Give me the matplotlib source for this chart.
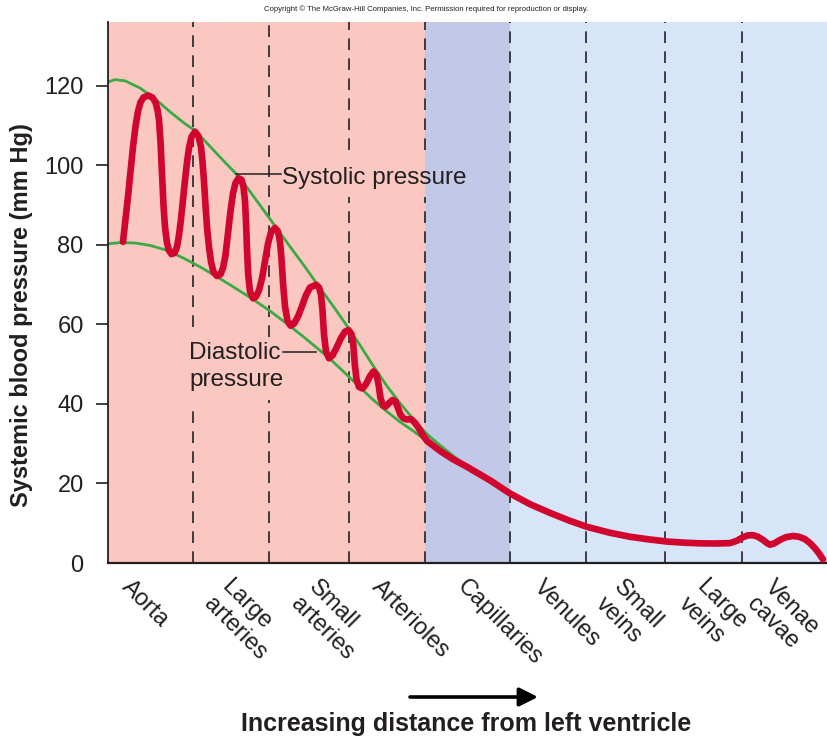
import matplotlib
matplotlib.use('Agg')
import matplotlib.pyplot as plt

plt.rcParams['font.family'] = ['Liberation Sans', 'DejaVu Sans']

# =========================
# DATA  (x = distance along the circulation, arbitrary units)
# =========================
boundaries = [108, 193, 269, 349, 425, 510, 586, 665, 742, 828]
vessels = ['Aorta', 'Large\narteries', 'Small\narteries', 'Arterioles',
           'Capillaries', 'Venules', 'Small\nveins', 'Large\nveins',
           'Venae\ncavae']

# pulsing pressure trace (mm Hg)
press_x = [123, 125.5, 128, 130.5, 133, 135.5, 138, 140.5, 143.5, 148, 152.5, 155.5,
           157.5, 159, 160.5, 162, 163.5, 165, 167, 169, 171.5, 174.5, 177, 179,
           181, 183, 185, 187, 189, 191.5, 195, 198.5, 201, 202.5, 204, 205.5,
           207, 209, 211, 213.5, 217, 220.5, 223, 225.5, 228, 230.5, 233, 235.5,
           238.5, 241.5, 243.5, 245, 246, 247, 248.2, 250, 253, 256, 259, 262,
           265, 268, 271, 275, 278, 280, 281.5, 283, 285, 287.5, 290.5, 294,
           298, 302, 306, 310, 316, 319, 321, 322.5, 324, 326, 329, 332.5,
           337, 341, 345, 348.5, 351.5, 353.3, 354.6, 356.5, 359, 362.5, 366, 370,
           373.5, 376.5, 378.5, 380.5, 383, 385.5, 389, 392.5, 395.5, 398, 400.5, 403.5,
           407, 411, 414.5, 418, 422, 427, 440, 453, 467, 490, 510, 530,
           550, 570, 587, 610, 630, 650, 667, 685, 700, 715, 730, 737,
           743, 748, 753, 758, 763, 767, 770, 774, 780, 786, 793, 799,
           805, 810, 815, 819, 823]
press_y = [80.8, 86.5, 92.2, 98.5, 104.7, 109.8, 113.6, 115.9, 117.1, 117.6, 117.1, 115.9,
           114.0, 111.5, 106.0, 98.0, 90.0, 84.5, 80.5, 78.6, 77.7, 78.0, 79.5, 82.5,
           86.5, 91.5, 96.3, 100.8, 104.4, 107.2, 108.5, 107.4, 104.6, 101.0, 96.0, 90.0,
           84.5, 79.5, 75.8, 73.2, 72.2, 72.6, 74.2, 77.5, 83.0, 88.5, 93.0, 95.6,
           96.8, 96.4, 94.6, 91.0, 86.0, 79.0, 72.5, 68.3, 66.6, 67.0, 68.6, 71.6,
           76.0, 80.3, 83.2, 84.3, 83.4, 80.8, 76.5, 70.5, 64.5, 61.0, 59.7, 60.2,
           62.0, 64.6, 67.4, 69.3, 70.0, 69.3, 67.5, 63.5, 57.5, 53.2, 51.5, 52.2,
           54.4, 56.6, 58.2, 58.6, 57.6, 55.0, 50.5, 46.2, 44.3, 43.9, 45.0, 47.0,
           48.2, 47.3, 45.0, 41.5, 39.6, 39.3, 40.2, 41.0, 40.6, 39.0, 37.3, 36.4,
           36.1, 36.2, 35.4, 34.2, 32.5, 30.7, 28.2, 26.1, 24.2, 20.8, 17.5, 14.8,
           12.6, 10.6, 9.1, 7.6, 6.6, 5.9, 5.4, 5.1, 4.95, 4.9, 5.0, 5.6,
           6.5, 6.95, 7.0, 6.6, 5.8, 5.0, 4.6, 4.9, 5.8, 6.5, 6.8, 6.6,
           6.0, 5.0, 3.7, 2.4, 0.9]

# systolic envelope
sys_x = [108, 115, 125, 140, 155, 170, 185, 195, 210, 225, 240, 260, 275,
         290, 305, 317, 333, 348, 360, 374, 387, 400, 414, 427, 440, 453, 468]
sys_y = [121.0, 121.6, 121.3, 119.5, 116.8, 113.5, 110.5, 108.8, 104.8, 100.8,
         96.9, 90.0, 84.8, 79.6, 74.5, 70.2, 64.7, 59.3, 54.8, 49.3, 44.5,
         40.2, 36.0, 32.4, 29.6, 27.0, 24.2]

# diastolic envelope
dia_x = [108, 120, 135, 150, 165, 172, 185, 200, 217, 235, 252, 270, 290,
         305, 328, 345, 360, 372, 385, 400, 415, 427, 440, 453, 468]
dia_y = [80.3, 80.6, 80.5, 79.9, 78.8, 78.1, 76.5, 74.5, 72.0, 69.2, 66.5,
         63.4, 59.6, 56.6, 51.8, 47.8, 44.2, 41.3, 38.5, 35.5, 32.9, 30.6,
         28.2, 26.0, 24.2]

yticks = [0, 20, 40, 60, 80, 100, 120]

# =========================
# STYLE
# =========================
PINK = '#FBC8C1'
LAVENDER = '#C2C8E8'
LIGHTBLUE = '#D7E5F8'
seg_colors = [PINK] * 4 + [LAVENDER] + [LIGHTBLUE] * 4
RED = '#D1062E'
GREEN = '#3BAA44'
INK = '#231f20'

# where each rotated label starts
label_x = [133, 233, 320, 383, 468, 545, 625, 708, 776]

# gaps in the dashed dividers behind the annotation text (mm Hg)
gaps = {193: (39.2, 59.4), 269: (41.0, 56.9), 349: (92.1, 103.9), 425: (92.1, 103.9)}

fig = plt.figure(figsize=(8.28, 7.38), dpi=100)
fig.patch.set_facecolor('white')
ax = fig.add_axes([108 / 828, 175 / 738, 720 / 828, 541 / 738])
top = 136.1
ax.set_xlim(boundaries[0], boundaries[-1])
ax.set_ylim(0, top)

for i in range(len(vessels)):
    ax.axvspan(boundaries[i], boundaries[i + 1], color=seg_colors[i], lw=0, zorder=0)

dash = (0, (7, 5))
for b in boundaries[1:-1]:
    if b in gaps:
        lo, hi = gaps[b]
        ax.vlines(b, 0, lo, color='#222222', lw=1.2, linestyles=dash, zorder=1)
        ax.vlines(b, hi, top, color='#222222', lw=1.2, linestyles=dash, zorder=1)
    else:
        ax.vlines(b, 0, top, color='#222222', lw=1.2, linestyles=dash, zorder=1)

ax.plot(sys_x, sys_y, color=GREEN, lw=2.0, zorder=2, solid_capstyle='round')
ax.plot(dia_x, dia_y, color=GREEN, lw=2.0, zorder=2, solid_capstyle='round')
ax.plot(press_x, press_y, color=RED, lw=4.8, zorder=3,
        solid_joinstyle='round', solid_capstyle='round')

# annotations
ax.plot([236, 281], [97.8, 97.8], color='#222222', lw=1.1, zorder=4)
ax.text(282, 96.9, 'Systolic pressure', fontsize=17.5, color=INK,
        ha='left', va='center', zorder=5)
ax.plot([283, 316], [53.1, 53.1], color='#222222', lw=1.1, zorder=4)
ax.text(189, 55.6, 'Diastolic\npressure', fontsize=17.5, color=INK,
        ha='left', va='top', linespacing=1.3, zorder=5)

# axes styling
for s in ['top', 'right']:
    ax.spines[s].set_visible(False)
ax.spines['left'].set_color(INK)
ax.spines['bottom'].set_color(INK)
ax.spines['left'].set_linewidth(1.3)
ax.spines['bottom'].set_linewidth(1.6)
ax.set_yticks(yticks)
ax.set_yticklabels([str(v) for v in yticks])
ax.tick_params(axis='y', direction='out', length=8.5, width=1.2, pad=9,
               labelsize=17, colors=INK)
ax.yaxis.get_major_ticks()[0].tick1line.set_visible(False)
ax.set_xticks([])

for lab, lx in zip(vessels, label_x):
    ax.annotate(lab, xy=(lx, 0), xycoords='data', xytext=(0, -9),
                textcoords='offset points', rotation=-45, rotation_mode='anchor',
                ha='left', va='top', fontsize=17, color=INK,
                annotation_clip=False)

fig.text(22 / 828, (738 - 315) / 738, 'Systemic blood pressure (mm Hg)',
         rotation=90, ha='center', va='center', fontsize=17, fontweight='bold',
         color=INK)

ax.annotate('', xy=(538, 41), xytext=(410, 41), xycoords='figure pixels',
            textcoords='figure pixels',
            arrowprops=dict(arrowstyle='-|>', lw=2.6, color='black',
                            mutation_scale=28, shrinkA=0, shrinkB=0))
fig.text(466 / 828, (738 - 724) / 738, 'Increasing distance from left ventricle',
         ha='center', va='center', fontsize=18, fontweight='bold', color=INK)

fig.text(426 / 828, (738 - 9) / 738,
         'Copyright \u00a9 The McGraw-Hill Companies, Inc. Permission required for reproduction or display.',
         ha='center', va='center', fontsize=5.6, color=INK)

fig.savefig('out.png', dpi=100)
